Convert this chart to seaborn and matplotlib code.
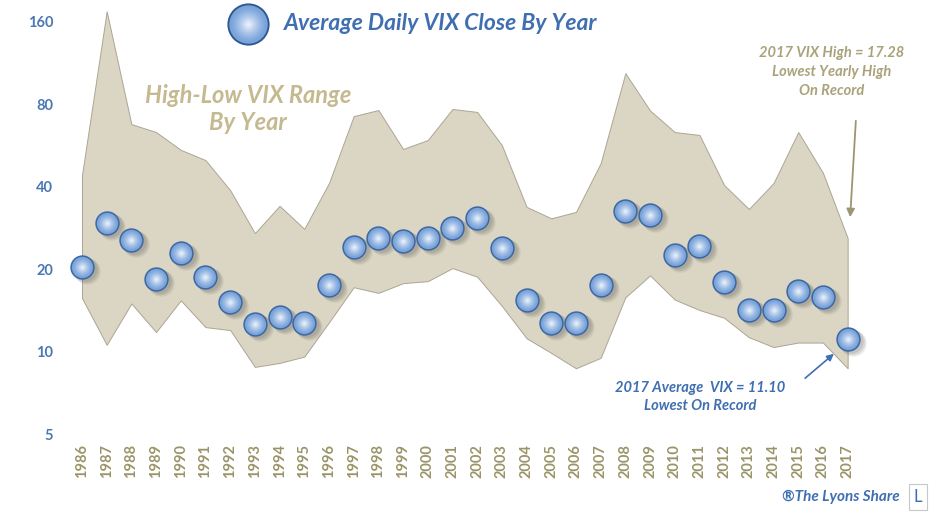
import numpy as np
import pandas as pd
import seaborn as sns
import matplotlib.pyplot as plt
from matplotlib.colors import to_rgb
from matplotlib.transforms import offset_copy
from matplotlib.ticker import FixedLocator, FixedFormatter, NullLocator

# Values (log scale)
years = list(range(1986, 2018))
avg_close = [20.4, 29.5, 25.6, 18.4, 22.9, 18.8, 15.2, 12.6, 13.4, 12.7,
             17.5, 24.1, 26.0, 25.3, 26.0, 28.3, 30.8, 24.0, 15.4, 12.7,
             12.7, 17.5, 32.6, 31.5, 22.5, 24.3, 18.0, 14.2, 14.2, 16.7,
             15.8, 11.1]
year_high = [44.1, 175, 67.8, 63.4, 54.6, 50.1, 38.9, 27.1, 34.1, 28.1,
             41.3, 72.5, 76.3, 55.0, 59.3, 77.0, 75.1, 56.8, 33.8, 30.7,
             32.4, 48.8, 104, 76.0, 63.4, 61.9, 40.6, 33.2, 41.3, 63.4,
             45.0, 26.0]
year_low = [15.7, 10.6, 15.0, 11.8, 15.4, 12.3, 12.0, 8.8, 9.1, 9.6,
            12.8, 17.2, 16.4, 17.8, 18.1, 20.2, 18.8, 14.7, 11.2, 9.9,
            8.7, 9.5, 15.8, 19.0, 15.5, 14.2, 13.3, 11.3, 10.4, 10.8,
            10.8, 8.7]
y_ticks = [5, 10, 20, 40, 80, 160]

BLUE = "#3f6fb0"
KHAKI = "#c4b98f"
OLIVE = "#9b9468"
FILL = "#dbd6c3"

df = pd.DataFrame({"year": years, "avg": avg_close, "high": year_high, "low": year_low})

sns.set_style("white")
plt.rcParams["font.family"] = ["Lato", "DejaVu Sans"]

W, H = 933, 513
fig = plt.figure(figsize=(W / 100, H / 100), dpi=100)
ax = fig.add_axes([60 / W, 1 - 440 / H, 820 / W, 440 / H])


def fx(px):
    return px / W


def fy(py):
    return 1 - py / H


# soft radial shading for the spheres
outer = np.array(to_rgb("#7aa3da"))
inner = np.array(to_rgb("#e4eefa"))
steps = 10
shades = [tuple(outer + (inner - outer) * (i / (steps - 1)) ** 1.3) for i in range(steps)]
fracs = [1 - 0.88 * i / (steps - 1) for i in range(steps)]

# high-low band
ax.fill_between(df["year"], df["low"], df["high"], color=FILL,
                edgecolor="#aaa595", linewidth=0.7, zorder=1)

# sphere markers: shadow + body + shading
for k, (dx, dy, a) in enumerate([(5, -4, 0.12), (4, -3, 0.15), (3, -2, 0.15)]):
    sh = offset_copy(ax.transData, fig=fig, x=dx, y=dy, units="dots")
    ax.scatter(df["year"], df["avg"], s=360 - 30 * k, color="#5e5e5e", alpha=a,
               linewidths=0, transform=sh, zorder=2)
sns.scatterplot(data=df, x="year", y="avg", s=270, color=shades[0],
                edgecolor="#3b67a3", linewidth=1.1, ax=ax, zorder=3, legend=False)
for i in range(1, steps):
    ax.scatter(df["year"], df["avg"], s=230 * fracs[i] ** 2, color=shades[i],
               linewidths=0, zorder=3 + i)

ax.set_yscale("log", base=2)
ax.set_ylim(4.76, 192.5)
ax.set_xlim(1985.11, 2018.31)
ax.yaxis.set_major_locator(FixedLocator(y_ticks))
ax.yaxis.set_major_formatter(FixedFormatter([str(t) for t in y_ticks]))
ax.yaxis.set_minor_locator(NullLocator())
ax.set_xticks(years)
ax.set_xticklabels([str(y) for y in years], rotation=90)
ax.tick_params(axis="y", length=0, pad=5, labelsize=10.5, labelcolor="#4a78b4")
ax.tick_params(axis="x", length=0, pad=3, labelsize=10.5, labelcolor=OLIVE)
for lab in ax.get_xticklabels() + ax.get_yticklabels():
    lab.set_fontweight("bold")
ax.set_xlabel("")
ax.set_ylabel("")
sns.despine(ax=ax, left=True, bottom=True)

# title with sphere icon
fig.text(fx(441), fy(24), "Average Daily VIX Close By Year", ha="center", va="center",
         fontsize=16.5, fontweight="bold", style="italic", color=BLUE)
icon_size = 29
fig.add_artist(plt.Line2D([fx(248)], [fy(24)], marker="o", markersize=icon_size,
                          color=shades[0], markeredgecolor="#2f5a93", markeredgewidth=1.4,
                          transform=fig.transFigure))
for i in range(1, steps):
    fig.add_artist(plt.Line2D([fx(248)], [fy(24)], marker="o",
                              markersize=icon_size * 0.93 * fracs[i], color=shades[i],
                              markeredgewidth=0, transform=fig.transFigure))

fig.text(fx(248), fy(109), "High-Low VIX Range\nBy Year", ha="center", va="center",
         fontsize=17, fontweight="bold", style="italic", color=KHAKI, linespacing=1.2)

fig.text(fx(832), fy(72), "2017 VIX High = 17.28\nLowest Yearly High\nOn Record",
         ha="center", va="center", fontsize=10.5, fontweight="bold", style="italic",
         color="#aaa27b", linespacing=1.45)
ax.annotate("", xy=(fx(850), fy(220)), xycoords="figure fraction",
            xytext=(fx(856), fy(118)), textcoords="figure fraction",
            arrowprops=dict(arrowstyle="-|>", color="#9d9670", lw=1.3, mutation_scale=12))

fig.text(fx(700), fy(397), "2017 Average  VIX = 11.10\nLowest On Record",
         ha="center", va="center", fontsize=10.5, fontweight="bold", style="italic",
         color=BLUE, linespacing=1.4)
ax.annotate("", xy=(fx(836), fy(352)), xycoords="figure fraction",
            xytext=(fx(803), fy(380)), textcoords="figure fraction",
            arrowprops=dict(arrowstyle="-|>", color="#3f6fb0", lw=1.2, mutation_scale=10))

fig.text(fx(900), fy(497), "\u00aeThe Lyons Share", ha="right", va="center",
         fontsize=11, fontweight="bold", style="italic", color=BLUE)
fig.text(fx(918), fy(497), "L", ha="center", va="center", fontsize=12, color=BLUE,
         bbox=dict(boxstyle="square,pad=0.3", fc="white", ec="#c8c8c8", lw=0.8))

fig.savefig("out.png", dpi=100)
